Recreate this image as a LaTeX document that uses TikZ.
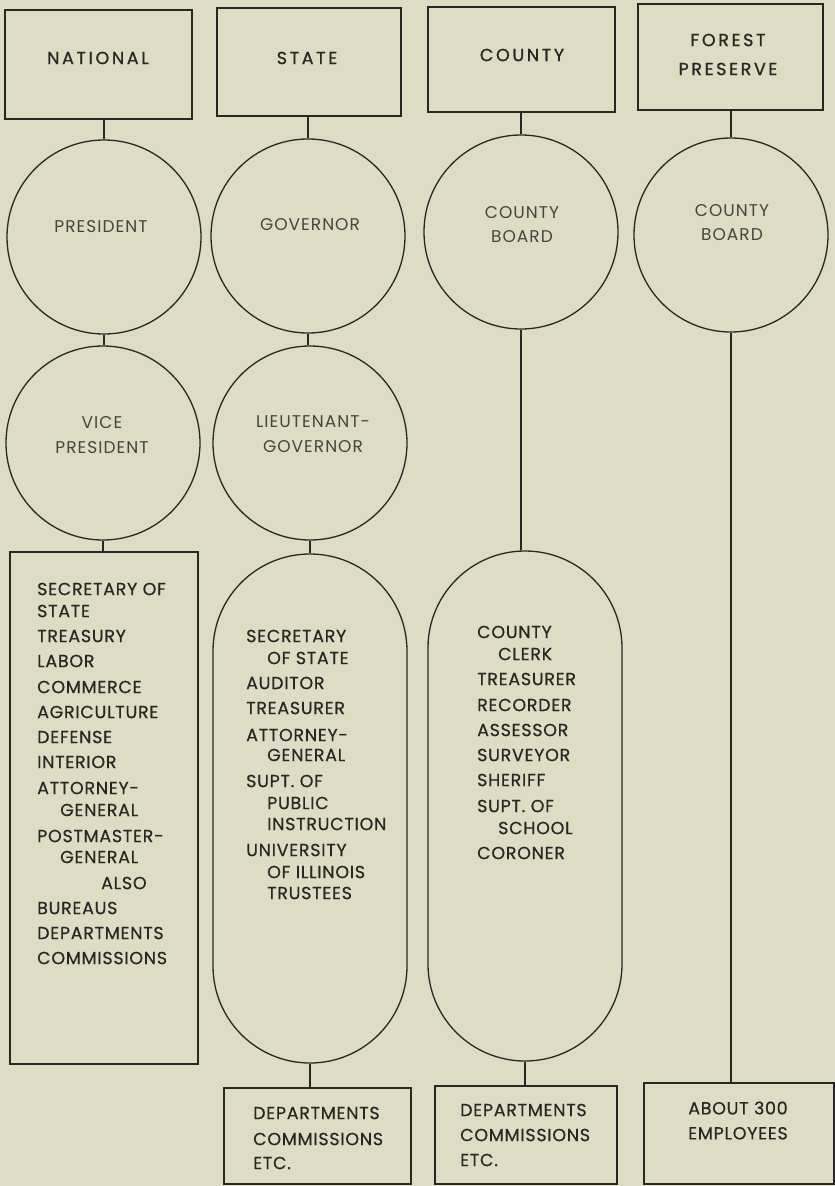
\documentclass[tikz,border=0pt]{standalone}
\usepackage{fontspec}
\setmainfont{Poppins}[LetterSpace=4]
\usepackage{tikz}
\definecolor{paper}{RGB}{223,220,197}
\definecolor{ink}{RGB}{40,39,35}
\definecolor{softink}{RGB}{70,69,62}
\tikzset{
  headbox/.style={draw=ink, line width=1.3pt, inner sep=0pt},
  headtext/.style={text=ink, font=\fontsize{17.5}{29}\selectfont\addfontfeature{LetterSpace=15,FakeBold=1}, align=center, inner sep=0pt},
  circbox/.style={draw=ink, line width=1.3pt, circle, minimum size=194pt, inner sep=0pt},
  circtext/.style={text=softink, font=\fontsize{17}{24.5}\selectfont\addfontfeature{LetterSpace=6}, align=center, inner sep=0pt},
  pillbox/.style={draw=ink, line width=1.3pt, minimum width=194pt, rounded corners=97pt, inner sep=0pt},
  listbox/.style={draw=ink, line width=1.3pt, inner sep=0pt},
  listtext/.style={text=ink, font=\fontsize{17.5}{25}\selectfont\addfontfeature{FakeBold=0.5}, inner sep=0pt, anchor=west},
  link/.style={draw=ink, line width=1.2pt}
}
\begin{document}
\begin{tikzpicture}[x=1pt, y=-1pt]
  \fill[paper] (0,0) rectangle (835,1186);
  \useasboundingbox (0,0) rectangle (835,1186);
  % top boxes
  \node[headbox, minimum width=187pt, minimum height=109pt] (natbox) at (98.5,64.5) {};
  \node[headbox, minimum width=184pt, minimum height=108pt] (stbox) at (309,62) {};
  \node[headbox, minimum width=187pt, minimum height=105pt] (cobox) at (521.5,59.5) {};
  \node[headbox, minimum width=185pt, minimum height=106pt] (fpbox) at (730.5,57) {};
  \node[headtext] (natlbl) at (98,58) {NATIONAL};
  \node[headtext] (stlbl) at (307,58) {STATE};
  \node[headtext] (colbl) at (522,55) {COUNTY};
  \node[headtext] (fplbl) at (728,54.5) {FOREST\\PRESERVE};
  % circles
  \node[circbox] (pres) at (104,237) {};
  \node[circbox] (vpres) at (103,443) {};
  \node[circbox] (gov) at (308,236) {};
  \node[circbox] (ltgov) at (310,443) {};
  \node[circbox] (coboard) at (521,232) {};
  \node[circbox] (fpboard) at (731,235) {};
  \node[circtext] (preslbl) at (101,227) {PRESIDENT};
  \node[circtext] (vpreslbl) at (102,435) {VICE\\PRESIDENT};
  \node[circtext] (govlbl) at (310,225) {GOVERNOR};
  \node[circtext] (ltgovlbl) at (313,434) {LIEUTENANT-\\GOVERNOR};
  \node[circtext] (coboardlbl) at (522,224.5) {COUNTY\\BOARD};
  \node[circtext] (fpboardlbl) at (732,222.5) {COUNTY\\BOARD};
  % offices
  \node[listbox, minimum width=188pt, minimum height=512pt] (natlist) at (104,808) {};
  \node[pillbox, minimum height=509pt] (stpill) at (310,808.5) {};
  \node[pillbox, minimum height=510pt] (copill) at (525,806) {};
  % bottom boxes
  \node[listbox, minimum width=187pt, minimum height=96pt] (stdept) at (317.5,1136) {};
  \node[listbox, minimum width=182pt, minimum height=98pt] (codept) at (526,1135) {};
  \node[listbox, minimum width=190pt, minimum height=101pt] (fpstaff) at (739,1133.5) {};
  % connectors
  \draw[link] (pres.north) -- (pres.north |- natbox.south);
  \draw[link] (pres.south) -- (pres.south |- vpres.north);
  \draw[link] (vpres.south) -- (vpres.south |- natlist.north);
  \draw[link] (gov.north) -- (gov.north |- stbox.south);
  \draw[link] (gov.south) -- (gov.south |- ltgov.north);
  \draw[link] (ltgov.south) -- (ltgov.south |- stpill.north);
  \draw[link] (stpill.south) -- (stpill.south |- stdept.north);
  \draw[link] (coboard.north) -- (coboard.north |- cobox.south);
  \draw[link] (coboard.south) -- (coboard.south |- copill.north);
  \draw[link] (copill.south) -- (copill.south |- codept.north);
  \draw[link] (fpboard.north) -- (fpboard.north |- fpbox.south);
  \draw[link] (fpboard.south) -- (fpboard.south |- fpstaff.north);
  % national list
  \foreach \txt/\xx/\yy [count=\i] in {SECRETARY OF/37/589, STATE/37/611, TREASURY/37/636,
      LABOR/37/661, COMMERCE/37/687, AGRICULTURE/37/712, DEFENSE/37/737, INTERIOR/37/762,
      ATTORNEY-/37/788, GENERAL/60/810, POSTMASTER-/37/836, GENERAL/60/857, ALSO/101/883,
      BUREAUS/37/908, DEPARTMENTS/37/933, COMMISSIONS/37/958}
    \node[listtext] (nat\i) at (\xx,\yy) {\txt};
  % state list
  \foreach \txt/\xx/\yy [count=\i] in {SECRETARY/246/636, OF STATE/267/658, AUDITOR/246/683,
      TREASURER/246/708, ATTORNEY-/246/735, GENERAL/267/755, SUPT. OF/246/781,
      PUBLIC/267/803, INSTRUCTION/267/824, UNIVERSITY/246/850, OF ILLINOIS/267/872,
      TRUSTEES/267/893}
    \node[listtext] (st\i) at (\xx,\yy) {\txt};
  % county list
  \foreach \txt/\xx/\yy [count=\i] in {COUNTY/477/632, CLERK/498/654, TREASURER/477/679,
      RECORDER/477/705, ASSESSOR/477/730, SURVEYOR/477/755, SHERIFF/477/780,
      SUPT. OF/477/806, SCHOOL/498/828, CORONER/477/853}
    \node[listtext] (co\i) at (\xx,\yy) {\txt};
  % bottom texts
  \foreach \txt/\yy [count=\i] in {DEPARTMENTS/1113, COMMISSIONS/1139, ETC./1163}
    \node[listtext] (stdep\i) at (253,\yy) {\txt};
  \foreach \txt/\yy [count=\i] in {DEPARTMENTS/1110, COMMISSIONS/1135, ETC./1160}
    \node[listtext] (codep\i) at (460,\yy) {\txt};
  \node[listtext, anchor=center, align=center] (fpstafflbl) at (738,1120.5) {ABOUT 300\\EMPLOYEES};
\end{tikzpicture}
\end{document}
